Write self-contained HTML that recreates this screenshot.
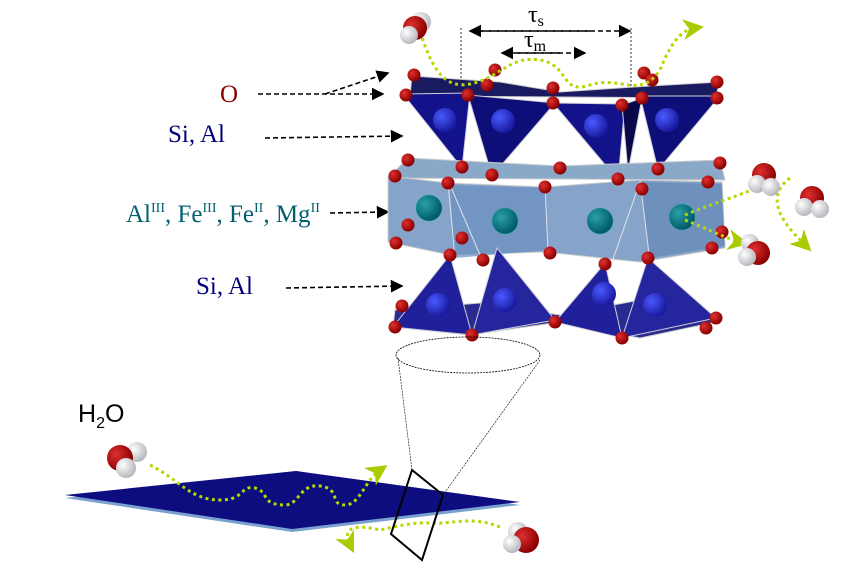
<!DOCTYPE html>
<html><head><meta charset="utf-8"><style>
body{margin:0;background:#fff;width:867px;height:577px;overflow:hidden}
svg{display:block}
</style></head><body>
<svg width="867" height="577" viewBox="0 0 867 577" xmlns="http://www.w3.org/2000/svg">
<defs>
<radialGradient id="red" cx="35%" cy="35%" r="65%"><stop offset="0" stop-color="#e03030"/><stop offset="1" stop-color="#8a0000"/></radialGradient>
<radialGradient id="wh" cx="35%" cy="35%" r="65%"><stop offset="0" stop-color="#ffffff"/><stop offset="1" stop-color="#b8b8c0"/></radialGradient>
<radialGradient id="blu" cx="35%" cy="35%" r="65%"><stop offset="0" stop-color="#4a5aff"/><stop offset="1" stop-color="#1a1aa0"/></radialGradient>
<radialGradient id="cy" cx="35%" cy="35%" r="65%"><stop offset="0" stop-color="#2aa0a8"/><stop offset="1" stop-color="#005a66"/></radialGradient>
<marker id="ab" markerWidth="8" markerHeight="8" refX="7" refY="4" orient="auto"><path d="M0,0 L8,4 L0,8 z" fill="#000"/></marker>
<marker id="ag" markerWidth="7" markerHeight="7" refX="4" refY="3.5" orient="auto"><path d="M0,0 L7,3.5 L0,7 L2,3.5 z" fill="#a8cc00"/></marker>
</defs>

<g font-family="Liberation Serif, serif" font-size="25">
<text x="220" y="102" fill="#8b0000">O</text>
<text x="168" y="142" fill="#00007a">Si, Al</text>
<text x="126" y="222" fill="#006070">Al<tspan font-size="14" dy="-10">III</tspan><tspan dy="10">, Fe</tspan><tspan font-size="14" dy="-10">III</tspan><tspan dy="10">, Fe</tspan><tspan font-size="14" dy="-10">II</tspan><tspan dy="10">, Mg</tspan><tspan font-size="14" dy="-10">II</tspan></text>
<text x="196" y="294" fill="#00007a">Si, Al</text>
</g>
<text x="78" y="422" font-family="Liberation Sans, sans-serif" font-size="25" fill="#000">H<tspan font-size="16" dy="6">2</tspan><tspan dy="-6">O</tspan></text>

<g stroke="#000" stroke-width="1.6" stroke-dasharray="5,3" fill="none">
<path d="M258 94 L383 94" marker-end="url(#ab)"/>
<path d="M325 94 L388 73" marker-end="url(#ab)"/>
<path d="M265 138 L402 136" marker-end="url(#ab)"/>
<path d="M330 213 L388 212" marker-end="url(#ab)"/>
<path d="M286 288 L402 286" marker-end="url(#ab)"/>
<path d="M470 31 L630 31" marker-end="url(#ab)"/>
<path d="M590 31 L470 31" marker-end="url(#ab)"/>
<path d="M510 53 L585 53" marker-end="url(#ab)"/>
<path d="M560 53 L502 53" marker-end="url(#ab)"/>
</g>
<g stroke="#000" stroke-width="0.8" stroke-dasharray="2,2"><line x1="461" y1="28" x2="461" y2="86"/><line x1="631" y1="28" x2="631" y2="86"/></g>
<text x="528" y="22" font-family="Liberation Serif, serif" font-size="24">τ<tspan font-size="16" dy="4">s</tspan></text>
<text x="524" y="47" font-family="Liberation Serif, serif" font-size="24">τ<tspan font-size="16" dy="4">m</tspan></text>

<polygon points="412,76 500,82 560,92 650,86 720,82 715,98 410,96" fill="#1a1a60" stroke="#ccc" stroke-width="1"/>
<g stroke="#d0d0d8" stroke-width="1">
<polygon points="403,94 470,93 462,168" fill="#12128a"/>
<polygon points="468,95 555,103 492,176" fill="#0e0e78"/>
<polygon points="553,103 625,104 618,180" fill="#12128a"/>
<polygon points="640,96 720,96 658,170" fill="#0e0e78"/>
<polygon points="622,105 642,98 628,172" fill="#08084a"/>
</g>
<g fill="url(#blu)"><circle cx="445" cy="120" r="12"/><circle cx="503" cy="121" r="12"/><circle cx="596" cy="126" r="12"/><circle cx="667" cy="120" r="12"/></g>

<polygon points="408,158 560,166 720,160 725,180 388,178" fill="#8aa8c8" stroke="#ccc"/>
<polygon points="388,176 448,183 545,187 640,180 722,182 725,248 640,262 545,252 450,255 388,242" fill="#7c9cc4" fill-opacity="0.92" stroke="#ccc" stroke-width="1"/>
<polygon points="450,185 545,188 548,250 455,258" fill="#6a8ec0" opacity="0.7"/>
<polygon points="640,182 722,184 725,246 650,258" fill="#5e86b4" opacity="0.6"/>
<g stroke="#e0e0e6" stroke-width="1" fill="none"><path d="M448,183 L455,258 M545,187 L548,252 M640,180 L650,262 M450,185 L480,255 M640,182 L612,262"/></g>
<g fill="url(#cy)" stroke="#2aa" stroke-width="0.5"><circle cx="429" cy="208" r="13"/><circle cx="505" cy="221" r="13"/><circle cx="600" cy="221" r="13"/><circle cx="682" cy="217" r="13"/></g>

<polygon points="395,310 480,303 560,315 640,300 718,315 716,322 640,338 560,322 470,335 393,327" fill="#2a2a90" stroke="#ccc"/>
<g stroke="#d0d0d8" stroke-width="1">
<polygon points="450,255 393,327 472,335" fill="#20209a"/>
<polygon points="497,248 472,335 555,320" fill="#25259e"/>
<polygon points="605,263 555,322 622,338" fill="#20209a"/>
<polygon points="648,258 622,338 716,318" fill="#25259e"/>
</g>
<g fill="url(#blu)"><circle cx="438" cy="305" r="12"/><circle cx="505" cy="300" r="12"/><circle cx="604" cy="294" r="12"/><circle cx="655" cy="305" r="12"/></g>

<g fill="url(#red)">
<circle cx="414" cy="75" r="6.5"/><circle cx="495" cy="70" r="6.5"/><circle cx="487" cy="85" r="6.5"/><circle cx="406" cy="95" r="6.5"/><circle cx="468" cy="95" r="6.5"/><circle cx="553" cy="88" r="6.5"/><circle cx="553" cy="103" r="6.5"/><circle cx="622" cy="105" r="6.5"/><circle cx="644" cy="73" r="6.5"/><circle cx="652" cy="80" r="6.5"/><circle cx="642" cy="98" r="6.5"/><circle cx="717" cy="82" r="6.5"/><circle cx="717" cy="98" r="6.5"/>
<circle cx="408" cy="160" r="6.5"/><circle cx="462" cy="167" r="6.5"/><circle cx="492" cy="175" r="6.5"/><circle cx="560" cy="168" r="6.5"/><circle cx="618" cy="179" r="6.5"/><circle cx="658" cy="169" r="6.5"/><circle cx="720" cy="163" r="6.5"/>
<circle cx="395" cy="176" r="6.5"/><circle cx="448" cy="183" r="6.5"/><circle cx="545" cy="187" r="6.5"/><circle cx="642" cy="189" r="6.5"/><circle cx="708" cy="182" r="6.5"/>
<circle cx="408" cy="225" r="6.5"/><circle cx="396" cy="243" r="6.5"/><circle cx="462" cy="238" r="6.5"/><circle cx="450" cy="255" r="6.5"/><circle cx="483" cy="260" r="6.5"/><circle cx="550" cy="253" r="6.5"/><circle cx="605" cy="264" r="6.5"/><circle cx="648" cy="258" r="6.5"/><circle cx="722" cy="232" r="6.5"/><circle cx="712" cy="248" r="6.5"/>
<circle cx="402" cy="306" r="6.5"/><circle cx="395" cy="327" r="6.5"/><circle cx="472" cy="335" r="6.5"/><circle cx="555" cy="322" r="6.5"/><circle cx="622" cy="338" r="6.5"/><circle cx="716" cy="318" r="6.5"/><circle cx="706" cy="328" r="6.5"/>
</g>

<g stroke="#b4d800" stroke-width="3" stroke-dasharray="3,3.5" fill="none">
<path d="M420 32 C430 60 440 90 470 84 C500 78 510 55 540 60 C570 65 560 95 590 85 C620 75 640 100 660 70 C670 45 680 30 695 28" marker-end="url(#ag)"/>
<path d="M685 215 C720 200 760 190 770 180"/>
<path d="M685 220 C710 230 730 240 740 242" marker-end="url(#ag)"/>
<path d="M790 178 C760 200 790 230 805 245" marker-end="url(#ag)"/>
</g>

<ellipse cx="468" cy="355" rx="72" ry="18" fill="none" stroke="#000" stroke-width="0.8" stroke-dasharray="2,1"/>
<g stroke="#000" stroke-width="0.6" stroke-dasharray="2,1"><line x1="398" y1="358" x2="412" y2="470"/><line x1="540" y1="360" x2="443" y2="495"/></g>

<polygon points="65,498 296,471 520,505 292,532" fill="#7aa0d0"/>
<polygon points="65,495 296,471 520,502 292,529" fill="#0d0d80"/>
<g stroke="#b4d800" stroke-width="3" stroke-dasharray="3,3.5" fill="none">
<path d="M150 465 C180 480 190 500 220 500 C245 500 240 485 255 488 C270 492 260 505 285 505 C300 505 300 480 325 487 C340 492 330 505 345 505 C360 505 365 480 380 470" marker-end="url(#ag)"/>
<path d="M500 527 C470 515 450 525 430 523 C410 522 390 528 380 530 C360 525 340 525 350 545" marker-end="url(#ag)"/>
</g>
<polygon points="412,470 443,495 422,560 391,534" fill="none" stroke="#000" stroke-width="2"/>

<g><circle cx="421" cy="22" r="10" fill="url(#wh)"/><circle cx="415" cy="28" r="12" fill="url(#red)"/><circle cx="409" cy="35" r="9" fill="url(#wh)"/></g>
<g><circle cx="764" cy="175" r="12" fill="url(#red)"/><circle cx="757" cy="184" r="9" fill="url(#wh)"/><circle cx="771" cy="187" r="9" fill="url(#wh)"/></g>
<g><circle cx="812" cy="198" r="12" fill="url(#red)"/><circle cx="804" cy="207" r="9" fill="url(#wh)"/><circle cx="820" cy="209" r="9" fill="url(#wh)"/></g>
<g><circle cx="750" cy="243" r="9" fill="url(#wh)"/><circle cx="758" cy="253" r="12" fill="url(#red)"/><circle cx="747" cy="257" r="9" fill="url(#wh)"/></g>
<g><circle cx="137" cy="452" r="10" fill="url(#wh)"/><circle cx="120" cy="458" r="13" fill="url(#red)"/><circle cx="126" cy="468" r="10" fill="url(#wh)"/></g>
<g><circle cx="518" cy="532" r="10" fill="url(#wh)"/><circle cx="526" cy="540" r="13" fill="url(#red)"/><circle cx="512" cy="544" r="9" fill="url(#wh)"/></g>
</svg>
</body></html>
